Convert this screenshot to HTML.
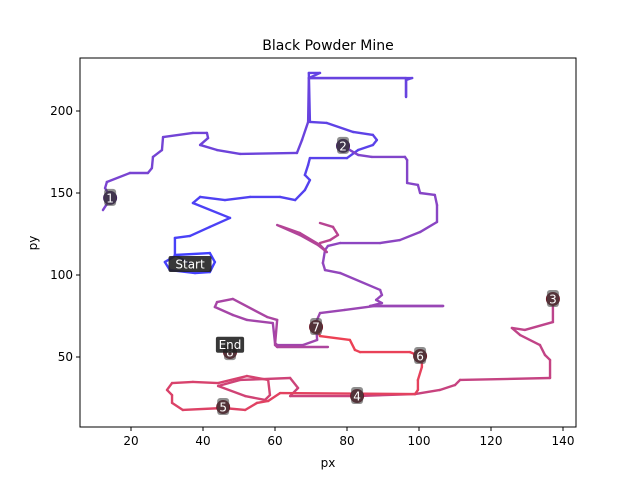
<!DOCTYPE html>
<html><head><meta charset="utf-8"><style>
body{margin:0;background:#fff;font-family:"Liberation Sans","DejaVu Sans",sans-serif}
svg text{font-family:"DejaVu Sans","Liberation Sans",sans-serif}
</style></head><body>
<svg id="c" width="640" height="480" xmlns="http://www.w3.org/2000/svg"></svg>
<script>
const xTicks=[20,40,60,80,100,120,140];
const yTicks=[50,100,150,200];
const segA=[[36.4,106.7],[32.2,112.2],[41.9,113.4],[43.3,107.9],[41.9,101.8],[37.8,101.2],[30.8,103.0],[29.4,107.9],[32.2,111.6],[32.2,122.6],[36.4,123.8],[41.9,129.3],[47.5,134.8],[37.2,143.9],[39.2,147.6],[46.1,145.7],[53.1,147.6],[61.4,147.6],[65.6,145.7],[68.3,151.8],[69.7,157.9],[68.3,161.0],[69.2,167.1],[69.7,171.3],[80.0,171.3],[83.1,176.2],[87.2,179.3],[88.3,182.3],[87.2,185.4],[81.7,187.2],[74.4,192.7],[69.7,193.3],[69.4,223.2],[72.5,223.2],[69.4,220.1],[98.1,220.1],[96.4,218.9],[96.4,208.5],[96.4,220.1],[69.4,220.1],[69.2,193.3],[67.5,182.3],[66.1,174.4],[50.3,173.8],[43.9,176.2],[39.2,179.3],[41.4,183.5],[41.1,186.6],[37.2,186.6],[28.9,184.1],[28.6,176.2],[26.1,172.0],[25.8,165.2],[24.7,162.2],[19.7,162.2],[13.3,156.7],[12.8,153.0],[14.4,147.0],[12.2,139.6]];
const segB=[[78.9,178.7],[80.8,176.2],[83.1,173.2],[86.9,172.0],[96.1,172.0],[96.7,170.1],[96.7,156.1],[99.7,154.9],[100.3,150.0],[104.4,148.8],[105.0,142.7],[105.0,132.3],[100.3,126.2],[94.7,121.3],[89.2,119.5],[78.1,119.5],[74.7,117.7],[73.9,115.2],[73.3,107.3],[73.9,103.0],[78.1,101.2],[89.2,90.9],[89.7,87.8],[88.1,84.8],[89.7,82.9],[86.4,81.1],[106.7,81.1],[87.8,81.1],[79.4,78.7],[72.5,76.8],[71.4,71.3],[71.7,60.4],[67.8,57.3],[60.6,57.3],[60.0,58.5],[59.4,70.7],[52.2,72.6],[48.3,75.6],[43.3,80.5],[43.9,83.5],[48.3,85.4],[57.8,74.4],[60.6,72.6],[60.0,57.3],[60.6,56.1],[74.7,56.1]];
const segH1=[[60.6,130.5],[66.9,124.4],[71.9,118.3],[74.4,114.0],[72.5,118.3],[66.9,125.6],[61.4,129.9]];
const segH2=[[72.5,131.7],[76.1,129.3],[77.5,124.4],[75.3,121.3],[72.5,119.5]];
const segC=[[137.2,85.4],[137.2,71.3],[129.4,66.5],[125.8,67.7],[128.1,63.4],[133.6,57.3],[135.0,51.2],[136.4,48.2],[136.4,37.2],[111.4,36.0],[110.0,32.9],[105.8,29.9],[98.9,27.4],[82.8,26.2],[64.2,26.2],[66.4,31.1],[64.2,37.2],[50.3,36.0],[44.2,32.3],[51.7,26.2],[57.2,23.8],[58.6,26.8],[58.1,36.0],[52.2,38.4],[44.2,34.1],[37.2,34.8],[31.4,34.1],[30.0,29.9],[31.4,26.8],[31.4,22.0],[34.4,17.7],[45.6,18.9],[51.7,17.7],[55.0,22.0],[58.1,23.2],[61.4,28.0],[98.9,27.4],[99.7,29.9],[99.7,36.0],[100.8,43.9],[100.8,50.0],[97.5,53.0],[83.6,53.0],[82.2,54.3],[80.8,60.4],[72.5,62.8],[71.4,68.3]];
const markerLabels=["1","2","3","4","5","6","7","8"];
const markerX=[14.2,78.9,137.2,82.8,45.6,100.3,71.4,47.5];
const markerY=[147,178.7,85.4,26.2,19.5,50.6,68.3,53];
const startPt=[36.4,106.7], endPt=[47.5,57.5];

const L=80,R=576,T=58,B=427;
const X=v=>59+v*3.6, Y=v=>439-v*1.64;
const svg=document.getElementById('c');const NS='http://www.w3.org/2000/svg';
function mk(t,a,p){const e=document.createElementNS(NS,t);for(const k in a)e.setAttribute(k,a[k]);(p||svg).appendChild(e);return e;}
const segs=[segA,segB,segH1,segH2,segC];
const N=segs.reduce((s,a)=>s+a.length,0);
function col(t){const a=[64,64,255],m=[150,70,185],b=[240,65,80];let c;
 if(t<0.5){const u=t/0.5;c=a.map((v,i)=>Math.round(v+(m[i]-v)*u));}else{const u=(t-0.5)/0.5;c=m.map((v,i)=>Math.round(v+(b[i]-v)*u));}
 return 'rgb('+c.join(',')+')';}
const g=mk('g',{});


let idx=0;
segs.forEach(s=>{for(let i=0;i<s.length-1;i++){const l=mk('line',{x1:X(s[i][0]),y1:Y(s[i][1]),x2:X(s[i+1][0]),y2:Y(s[i+1][1]),stroke:col((idx+i)/N),'stroke-width':2.4,'stroke-linecap':'round'},g);
 
 }
 idx+=s.length;});
// frame
const f=mk('rect',{x:L,y:T,width:R-L,height:B-T,fill:'none',stroke:'#000','stroke-width':1});


xTicks.forEach(v=>{mk('line',{x1:X(v),x2:X(v),y1:B,y2:B+4,stroke:'#000'});
 const t=mk('text',{x:X(v),y:B+18,'text-anchor':'middle','font-size':12});t.textContent=v;
 
 });
yTicks.forEach(v=>{mk('line',{x1:L-4,x2:L,y1:Y(v),y2:Y(v),stroke:'#000'});
 const t=mk('text',{x:L-7,y:Y(v)+4,'text-anchor':'end','font-size':12});t.textContent=v;
 
 });
const xt=mk('text',{x:328,y:467,'text-anchor':'middle','font-size':12});xt.textContent='px';


const yt=mk('text',{x:37,y:243,'text-anchor':'middle','font-size':12,transform:'rotate(-90 37 243)'});yt.textContent='py';


const tt=mk('text',{x:328,y:50,'text-anchor':'middle','font-size':14});tt.textContent='Black Powder Mine';


markerLabels.forEach((s,i)=>{const cx=X(markerX[i]),cy=Y(markerY[i]);
 const fill=i<2?'#3e1f5c':'#6a1a28';
 const c=mk('circle',{cx:cx,cy:cy,r:7,fill:fill});
 
 
 mk('rect',{x:cx-6,y:cy-9,width:12,height:17,rx:3,fill:'#444','fill-opacity':0.6});
 const t=mk('text',{x:cx,y:cy+4.5,'text-anchor':'middle','font-size':12,fill:'#fff'});t.textContent=s;
 
 });
[[startPt,'Start','start-label'],[endPt,'End','end-label']].forEach(([p,s,n])=>{const cx=X(p[0]),cy=Y(p[1]);
 const w=s.length*7.4+6;
 mk('rect',{x:cx-w/2,y:cy-8,width:w,height:16,rx:2,fill:'#222','fill-opacity':0.9});
 const t=mk('text',{x:cx,y:cy+4.5,'text-anchor':'middle','font-size':12,fill:'#fff'});t.textContent=s;
 
 });
</script>
</body></html>
